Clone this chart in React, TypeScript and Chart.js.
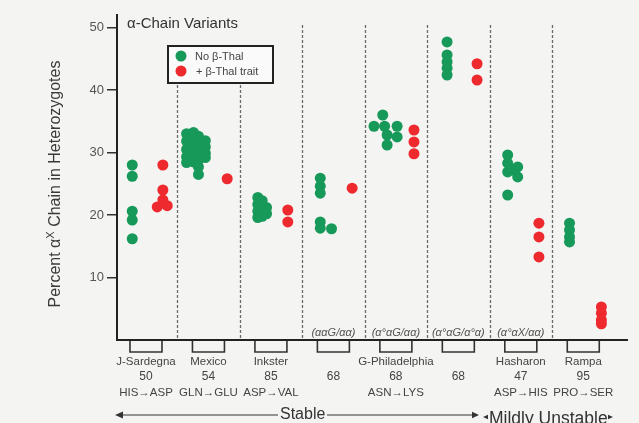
import { useEffect, useRef } from "react";
import Chart from "chart.js/auto";

// ---------- data ----------
const categories = ["J-Sardegna", "Mexico", "Inkster", "", "G-Philadelphia", "", "Hasharon", "Rampa"];
const residues = ["50", "54", "85", "68", "68", "68", "47", "95"];
const substitutions = ["HIS→ASP", "GLN→GLU", "ASP→VAL", "", "ASN→LYS", "", "ASP→HIS", "PRO→SER"];
const genotypes = ["", "", "", "(ααG/αα)", "(α°αG/αα)", "(α°αG/α°α)", "(α°αX/αα)", ""];
const legendLabels = ["No β-Thal", "+ β-Thal trait"];
const yTicks = [10, 20, 30, 40, 50];

// No β-Thal (green) values per category, with horizontal jitter offsets
const noThalValues = [
  [28.0, 26.2, 20.6, 19.2, 16.2],
  [33.0, 31.8, 30.5, 29.3, 28.4, 33.2, 32.0, 30.8, 29.6, 28.5, 32.6, 31.3, 30.0, 28.8, 27.7, 26.5, 31.9, 30.9, 29.9, 29.2],
  [22.8, 21.7, 20.6, 19.6, 22.3, 21.0, 19.8, 21.2, 20.2],
  [25.9, 24.6, 23.5, 18.9, 17.9, 17.8],
  [36.0, 34.2, 34.2, 34.2, 32.8, 32.5, 31.2],
  [47.7, 45.6, 44.5, 43.5, 42.4],
  [29.6, 28.3, 26.9, 27.7, 26.1, 27.2, 23.2],
  [18.7, 17.6, 16.5, 15.7],
];
const noThalOffsets = [
  [-0.22, -0.22, -0.22, -0.22, -0.22],
  [-0.35, -0.35, -0.35, -0.35, -0.35, -0.24, -0.24, -0.24, -0.24, -0.24, -0.16, -0.16, -0.16, -0.16, -0.16, -0.16, -0.05, -0.05, -0.05, -0.05],
  [-0.21, -0.21, -0.21, -0.21, -0.14, -0.14, -0.14, -0.07, -0.07],
  [-0.21, -0.21, -0.21, -0.21, -0.21, -0.03],
  [-0.21, -0.35, -0.18, 0.02, -0.14, 0.02, -0.14],
  [-0.18, -0.18, -0.18, -0.18, -0.18],
  [-0.21, -0.21, -0.21, -0.05, -0.05, -0.13, -0.21],
  [-0.22, -0.22, -0.22, -0.22],
];
// + β-Thal trait (red)
const thalValues = [
  [28.0, 24.0, 22.4, 21.3, 21.5],
  [25.8],
  [20.8, 18.9],
  [24.3],
  [33.6, 31.7, 29.8],
  [44.2, 41.6],
  [18.7, 16.5, 13.3],
  [5.3, 4.3, 3.2, 2.6],
];
const thalOffsets = [
  [0.27, 0.27, 0.27, 0.18, 0.34],
  [0.3],
  [0.27, 0.27],
  [0.3],
  [0.29, 0.29, 0.29],
  [0.3, 0.3],
  [0.29, 0.29, 0.29],
  [0.29, 0.29, 0.29, 0.29],
];

const GREEN = "#17995a";
const RED = "#ee2a2f";
const FONT = '"Liberation Sans", Arial, sans-serif';
const TEXT = "#444";

function toPoints(vals: number[][], offs: number[][]) {
  return vals.flatMap((arr, i) => arr.map((v, j) => ({ x: i + offs[i][j], y: v })));
}

function arrowHead(ctx: CanvasRenderingContext2D, x: number, y: number, dir: number, size: number) {
  ctx.beginPath();
  ctx.moveTo(x, y);
  ctx.lineTo(x - dir * size, y - size * 0.45);
  ctx.lineTo(x - dir * size, y + size * 0.45);
  ctx.closePath();
  ctx.fill();
}

const decor = {
  id: "decor",
  beforeDraw(chart: any) {
    const { ctx, width, height } = chart;
    ctx.save();
    ctx.fillStyle = "#f4f4f2";
    ctx.fillRect(0, 0, width, height);
    ctx.restore();
  },
  beforeDatasetsDraw(chart: any) {
    const { ctx, chartArea } = chart;
    const xs = chart.scales.x;
    const legL = chartArea.left + 51, legR = legL + 105, legB = chartArea.top + 68;
    ctx.save();
    ctx.strokeStyle = "#6a6a6a";
    ctx.lineWidth = 1.3;
    ctx.setLineDash([3, 2]);
    for (let i = 0; i < categories.length - 1; i++) {
      const px = Math.round(xs.getPixelForValue(i + 0.5)) + 0.5;
      const top = px > legL && px < legR ? legB + 2 : chartArea.top + 10;
      ctx.beginPath();
      ctx.moveTo(px, top);
      ctx.lineTo(px, chartArea.bottom);
      ctx.stroke();
    }
    ctx.restore();
  },
  afterDraw(chart: any) {
    const { ctx, chartArea } = chart;
    const xs = chart.scales.x;
    ctx.save();

    // y-axis title
    ctx.save();
    ctx.translate(56, 184);
    ctx.rotate(-Math.PI / 2);
    ctx.fillStyle = "#3a3a3a";
    ctx.textBaseline = "middle";
    const parts: [string, number, number][] = [["Percent α", 16, 0], ["X", 11, -5], [" Chain in Heterozygotes", 16, 0]];
    let total = 0;
    for (const [t, s] of parts) { ctx.font = `${s}px ${FONT}`; total += ctx.measureText(t).width; }
    let cx = -total / 2;
    for (const [t, s, dy] of parts) {
      ctx.font = `${s}px ${FONT}`;
      ctx.fillText(t, cx, dy);
      cx += ctx.measureText(t).width;
    }
    ctx.restore();

    // chart title
    ctx.fillStyle = "#333";
    ctx.font = `15px ${FONT}`;
    ctx.textBaseline = "middle";
    ctx.textAlign = "left";
    ctx.fillText("α-Chain Variants", chartArea.left + 10, chartArea.top + 9);

    // legend box
    const legL = chartArea.left + 51, legT = chartArea.top + 31;
    ctx.fillStyle = "#fafafa";
    ctx.fillRect(legL, legT, 105, 37);
    ctx.strokeStyle = "#222";
    ctx.lineWidth = 2;
    ctx.strokeRect(legL, legT, 105, 37);
    const colors = [GREEN, RED];
    legendLabels.forEach((lab, i) => {
      const y = legT + 10 + i * 15;
      ctx.fillStyle = colors[i];
      ctx.beginPath();
      ctx.arc(legL + 13, y, 5.5, 0, Math.PI * 2);
      ctx.fill();
      ctx.fillStyle = TEXT;
      ctx.font = `11px ${FONT}`;
      ctx.fillText(lab, legL + 27 + i, y + 1);
    });

    // genotype labels, brackets, category labels
    ctx.textAlign = "center";
    categories.forEach((name, i) => {
      const px = xs.getPixelForValue(i);
      if (genotypes[i]) {
        ctx.fillStyle = "#555";
        ctx.font = `italic 11px ${FONT}`;
        ctx.fillText(genotypes[i], px, chartArea.bottom - 7);
      }
      ctx.strokeStyle = "#333";
      ctx.lineWidth = 1.6;
      ctx.beginPath();
      ctx.moveTo(px - 16, chartArea.bottom + 1);
      ctx.lineTo(px - 16, chartArea.bottom + 12);
      ctx.lineTo(px + 16, chartArea.bottom + 12);
      ctx.lineTo(px + 16, chartArea.bottom + 1);
      ctx.stroke();
      ctx.fillStyle = TEXT;
      ctx.font = `11.5px ${FONT}`;
      if (name) ctx.fillText(name, px, chartArea.bottom + 22);
      ctx.font = `12px ${FONT}`;
      ctx.fillText(residues[i], px, chartArea.bottom + 37);
      ctx.font = `11.5px ${FONT}`;
      if (substitutions[i]) ctx.fillText(substitutions[i], px, chartArea.bottom + 53);
    });

    // stability arrows
    const ay = 415;
    ctx.strokeStyle = "#333";
    ctx.fillStyle = "#333";
    ctx.lineWidth = 1.2;
    ctx.beginPath();
    ctx.moveTo(chartArea.left, ay);
    ctx.lineTo(278, ay);
    ctx.moveTo(327, ay);
    ctx.lineTo(476, ay);
    ctx.stroke();
    arrowHead(ctx, chartArea.left - 2, ay, -1, 8);
    arrowHead(ctx, 479, ay, 1, 7);
    arrowHead(ctx, 483, ay + 2, -1, 5);
    arrowHead(ctx, 613, ay + 2, 1, 5);
    ctx.fillStyle = "#333";
    ctx.font = `16px ${FONT}`;
    ctx.textAlign = "left";
    ctx.textBaseline = "top";
    ctx.fillText("Stable", 280, 407);
    ctx.font = `17.5px ${FONT}`;
    ctx.fillText("Mildly Unstable", 489, 410);

    ctx.restore();
  },
};

export default function App() {
  const ref = useRef<HTMLCanvasElement>(null);
  useEffect(() => {
    document.body.style.margin = "0";
    const canvas = ref.current!;
    const chart = new Chart(canvas, {
      type: "scatter",
      data: {
        datasets: [
          { label: legendLabels[0], data: toPoints(noThalValues, noThalOffsets), backgroundColor: GREEN, borderWidth: 0, pointRadius: 5.5 },
          { label: legendLabels[1], data: toPoints(thalValues, thalOffsets), backgroundColor: RED, borderWidth: 0, pointRadius: 5.5 },
        ],
      },
      options: {
        responsive: false,
        animation: false,
        devicePixelRatio: 1,
        events: [],
        layout: { padding: { top: 15, right: 12, left: 0, bottom: 0 } },
        plugins: { legend: { display: false }, tooltip: { enabled: false } },
        scales: {
          x: {
            type: "linear",
            min: -0.464,
            max: 7.7,
            grid: { display: false },
            ticks: { display: false },
            border: { display: true, color: "#222", width: 2 },
            afterFit: (s: any) => { s.height = 83; },
          },
          y: {
            type: "linear",
            min: 0,
            max: 52,
            afterBuildTicks: (s: any) => { s.ticks = yTicks.map((v) => ({ value: v })); },
            ticks: { color: "#555", font: { family: FONT, size: 13 }, padding: 3 },
            grid: { drawOnChartArea: false, drawTicks: true, tickLength: 10, color: "#333", lineWidth: 1.5 },
            border: { display: true, color: "#222", width: 2 },
            afterFit: (s: any) => { s.width = 117; },
          },
        },
      } as any,
      plugins: [decor],
    });
    return () => chart.destroy();
  }, []);
  return (
    <div style={{ position: "absolute", left: 0, top: 0, width: 639, height: 423 }}>
      <canvas ref={ref} width={639} height={423} style={{ display: "block" }} />
    </div>
  );
}
